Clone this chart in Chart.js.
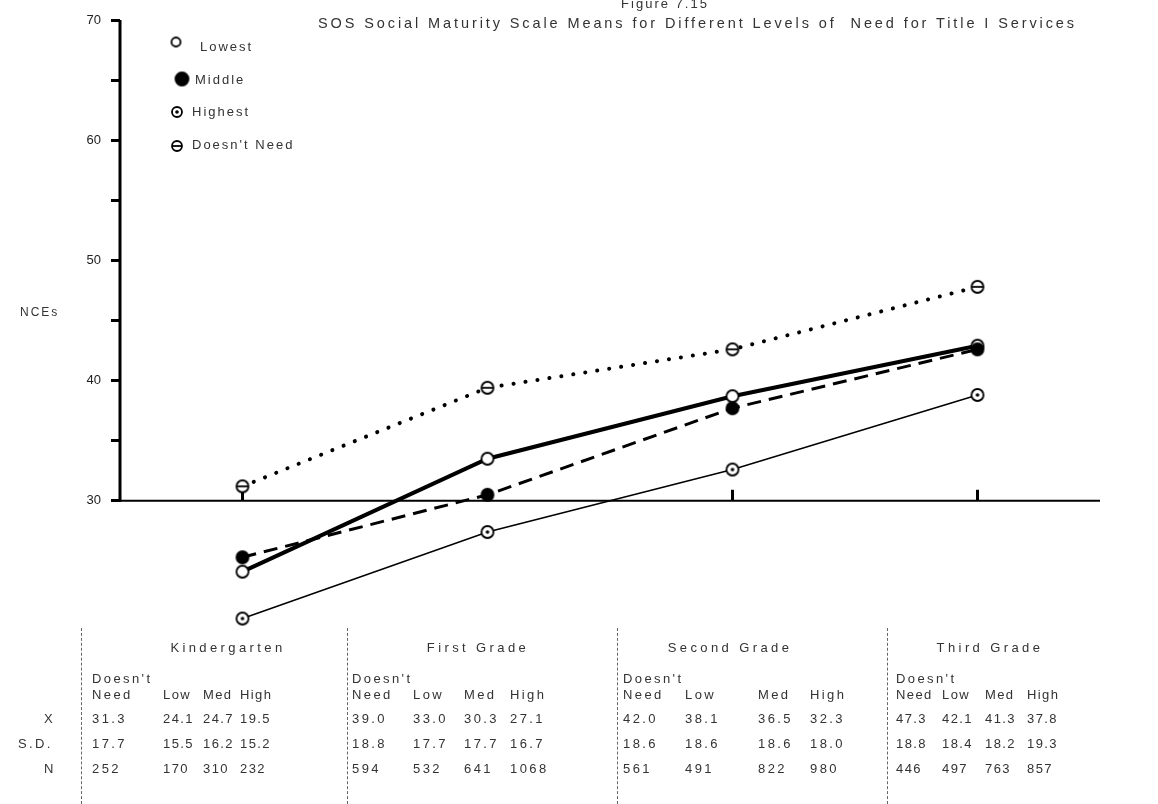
<!DOCTYPE html>
<html>
<head>
<meta charset="utf-8">
<script src="https://cdn.jsdelivr.net/npm/chart.js@4.4.1/dist/chart.umd.min.js"></script>
<style>
  body { margin: 0; background: #fff; }
  #wrap { position: relative; width: 1158px; height: 804px; overflow: hidden;
          font-family: "Liberation Sans", Arial, sans-serif; color: #333; }
  #chart { position: absolute; left: 0; top: 0; }
  .t { position: absolute; white-space: nowrap; transform: translateY(-50%);
       font-size: 13px; letter-spacing: 2.4px; }
  .c { transform: translate(-50%, -50%); }
  .sep { position: absolute; top: 628px; height: 176px; border-left: 1px dashed #666; }
</style>
</head>
<body>
<div id="wrap">
  <canvas id="chart" width="1158" height="804"></canvas>
</div>
<script>
// grades along the x axis
const grades = ["Kindergarten", "First Grade", "Second Grade", "Third Grade"];

// plotted means (NCEs) per level of need
const lowest = [24.1, 33.5, 38.7, 42.9];
const middle = [25.3, 30.5, 37.7, 42.6];
const highest = [20.2, 27.4, 32.6, 38.8];
const doesntNeed = [31.2, 39.4, 42.6, 47.8];

// y axis
const yTicks = [30, 40, 50, 60, 70];

// table under the chart: Doesn't Need, Low, Med, High
const subCols = ["Need", "Low", "Med", "High"];
const tableMeans = [[31.3, 24.1, 24.7, 19.5], [39.0, 33.0, 30.3, 27.1], [42.0, 38.1, 36.5, 32.3], [47.3, 42.1, 41.3, 37.8]];
const tableSD = [[17.7, 15.5, 16.2, 15.2], [18.8, 17.7, 17.7, 16.7], [18.6, 18.6, 18.6, 18.0], [18.8, 18.4, 18.2, 19.3]];
const tableN = [[252, 170, 310, 232], [594, 532, 641, 1068], [561, 491, 822, 980], [446, 497, 763, 857]];

// ---- point markers ----
function makeMarker(kind, r) {
    const s = 2 * r + 4;
    const c = document.createElement("canvas");
    c.width = s; c.height = s;
    const g = c.getContext("2d");
    const m = s / 2;
    g.lineWidth = 1.8;
    g.strokeStyle = "#000";
    g.beginPath();
    g.arc(m, m, r, 0, Math.PI * 2);
    g.fillStyle = kind === "filled" ? "#000" : "#fff";
    g.fill();
    g.stroke();
    if (kind === "dot") {
        g.beginPath();
        g.arc(m, m, 1.8, 0, Math.PI * 2);
        g.fillStyle = "#000";
        g.fill();
    }
    if (kind === "bar") {
        g.beginPath();
        g.moveTo(m - r, m);
        g.lineTo(m + r, m);
        g.stroke();
    }
    return c;
}

const legendSpots = [
    { x: 176, y: 42, tx: 200, ty: 47, r: 4.5 },
    { x: 182, y: 79, tx: 195, ty: 80, r: 6.5 },
    { x: 177, y: 112, tx: 192, ty: 112, r: 5 },
    { x: 177, y: 146, tx: 192, ty: 145, r: 5 }
];
const kinds = ["open", "filled", "dot", "bar"];

// axis lines: the y axis stops at 30, the x axis runs along 30
const axes30 = {
    id: "axes30",
    beforeDatasetsDraw(chart) {
        const { ctx, scales, chartArea } = chart;
        const y30 = scales.y.getPixelForValue(30);
        const y70 = scales.y.getPixelForValue(70);
        ctx.save();
        ctx.strokeStyle = "#000";
        ctx.lineWidth = 3;
        ctx.beginPath();
        ctx.moveTo(chartArea.left, y70);
        ctx.lineTo(chartArea.left, y30 + 1);
        ctx.stroke();
        ctx.lineWidth = 2;
        ctx.beginPath();
        ctx.moveTo(chartArea.left, y30);
        ctx.lineTo(chartArea.right, y30);
        ctx.stroke();
        ctx.lineWidth = 3;
        grades.forEach((g, i) => {
            const x = scales.x.getPixelForValue(i);
            ctx.beginPath();
            ctx.moveTo(x, y30);
            ctx.lineTo(x, y30 - 11);
            ctx.stroke();
        });
        ctx.restore();
    }
};

const markerLegend = {
    id: "markerLegend",
    afterDraw(chart) {
        const ctx = chart.ctx;
        ctx.save();
        ctx.font = "13px 'Liberation Sans', Arial, sans-serif";
        ctx.fillStyle = "#333";
        ctx.textBaseline = "middle";
        ctx.letterSpacing = "2px";
        chart.data.datasets.forEach((ds, i) => {
            const p = legendSpots[i];
            const img = makeMarker(kinds[i], p.r);
            ctx.drawImage(img, p.x - img.width / 2, p.y - img.height / 2);
            ctx.fillText(ds.label, p.tx, p.ty);
        });
        ctx.restore();
    }
};

new Chart(document.getElementById("chart"), {
    type: "line",
    data: {
        labels: grades,
        datasets: [
            {
                label: "Lowest",
                data: lowest,
                borderColor: "#000",
                borderWidth: 4,
                pointStyle: makeMarker("open", 6),
                order: 1
            },
            {
                label: "Middle",
                data: middle,
                borderColor: "#000",
                borderWidth: 3,
                borderDash: [14, 8],
                pointStyle: makeMarker("filled", 6),
                order: 0
            },
            {
                label: "Highest",
                data: highest,
                borderColor: "#000",
                borderWidth: 1.5,
                pointStyle: makeMarker("dot", 6),
                order: 2
            },
            {
                label: "Doesn't Need",
                data: doesntNeed,
                borderColor: "#000",
                borderWidth: 4,
                borderDash: [0.1, 12],
                borderCapStyle: "round",
                pointStyle: makeMarker("bar", 6),
                order: 3
            }
        ]
    },
    options: {
        responsive: false,
        animation: false,
        layout: { padding: { top: 20, bottom: 159, right: 58, left: 0 } },
        elements: { line: { tension: 0 } },
        plugins: {
            legend: { display: false },
            tooltip: { enabled: false }
        },
        scales: {
            x: {
                type: "category",
                offset: true,
                ticks: { display: false },
                grid: { display: false, drawTicks: false },
                border: { display: false },
                afterFit: (s) => { s.height = 0; }
            },
            y: {
                min: 18,
                max: 70,
                ticks: {
                    stepSize: 5,
                    padding: 10,
                    color: "#222",
                    font: { size: 13, family: "'Liberation Sans', Arial, sans-serif" },
                    callback: (v) => (yTicks.includes(v) ? String(v) : "")
                },
                afterBuildTicks: (s) => { s.ticks = s.ticks.filter((t) => t.value >= 30 && t.value % 5 === 0); },
                grid: { drawOnChartArea: false, drawTicks: true, tickLength: 9, tickWidth: 3, tickColor: "#000" },
                border: { display: false },
                afterFit: (s) => { s.width = 120; }
            }
        }
    },
    plugins: [axes30, markerLegend]
});

// ---- titles and the table (plain text) ----
const wrap = document.getElementById("wrap");
function put(text, x, y, center, extra) {
    const d = document.createElement("div");
    d.className = center ? "t c" : "t";
    d.textContent = text;
    d.style.left = x + "px";
    d.style.top = y + "px";
    if (extra) Object.assign(d.style, extra);
    wrap.appendChild(d);
}

put("Figure 7.15", 665, 3, true, { letterSpacing: "2px" });
put("SOS Social Maturity Scale Means for Different Levels of  Need for Title I Services", 318, 23, false,
    { letterSpacing: "2.9px", fontSize: "14.5px", whiteSpace: "pre" });
put("NCEs", 20, 312, false, { fontSize: "12px", letterSpacing: "2px" });

// table layout
const sepX = [81, 347, 617, 887];
const headCenter = [228, 478, 730, 990];
const colX = [[92, 163, 203, 240], [352, 413, 464, 510], [623, 685, 758, 810], [896, 942, 985, 1027]];
const rowY = { head: 647, doesnt: 678, need: 694, mean: 718, sd: 743, n: 768 };

sepX.forEach((x) => {
    const s = document.createElement("div");
    s.className = "sep";
    s.style.left = x + "px";
    wrap.appendChild(s);
});

put("X", 44, rowY.mean, false);
put("S.D.", 18, rowY.sd, false);
put("N", 44, rowY.n, false);

grades.forEach((g, i) => {
    put(g, headCenter[i], rowY.head, true, { letterSpacing: "3.4px" });
    put("Doesn't", colX[i][0], rowY.doesnt, false);
    subCols.forEach((sc, j) => {
        const tight = i === 3 || (i === 0 && j > 0) ? { letterSpacing: "1.4px" } : null;
        put(sc, colX[i][j], rowY.need, false, tight);
        put(tableMeans[i][j].toFixed(1), colX[i][j], rowY.mean, false, tight);
        put(tableSD[i][j].toFixed(1), colX[i][j], rowY.sd, false, tight);
        put(String(tableN[i][j]), colX[i][j], rowY.n, false, tight);
    });
});
</script>
</body>
</html>
